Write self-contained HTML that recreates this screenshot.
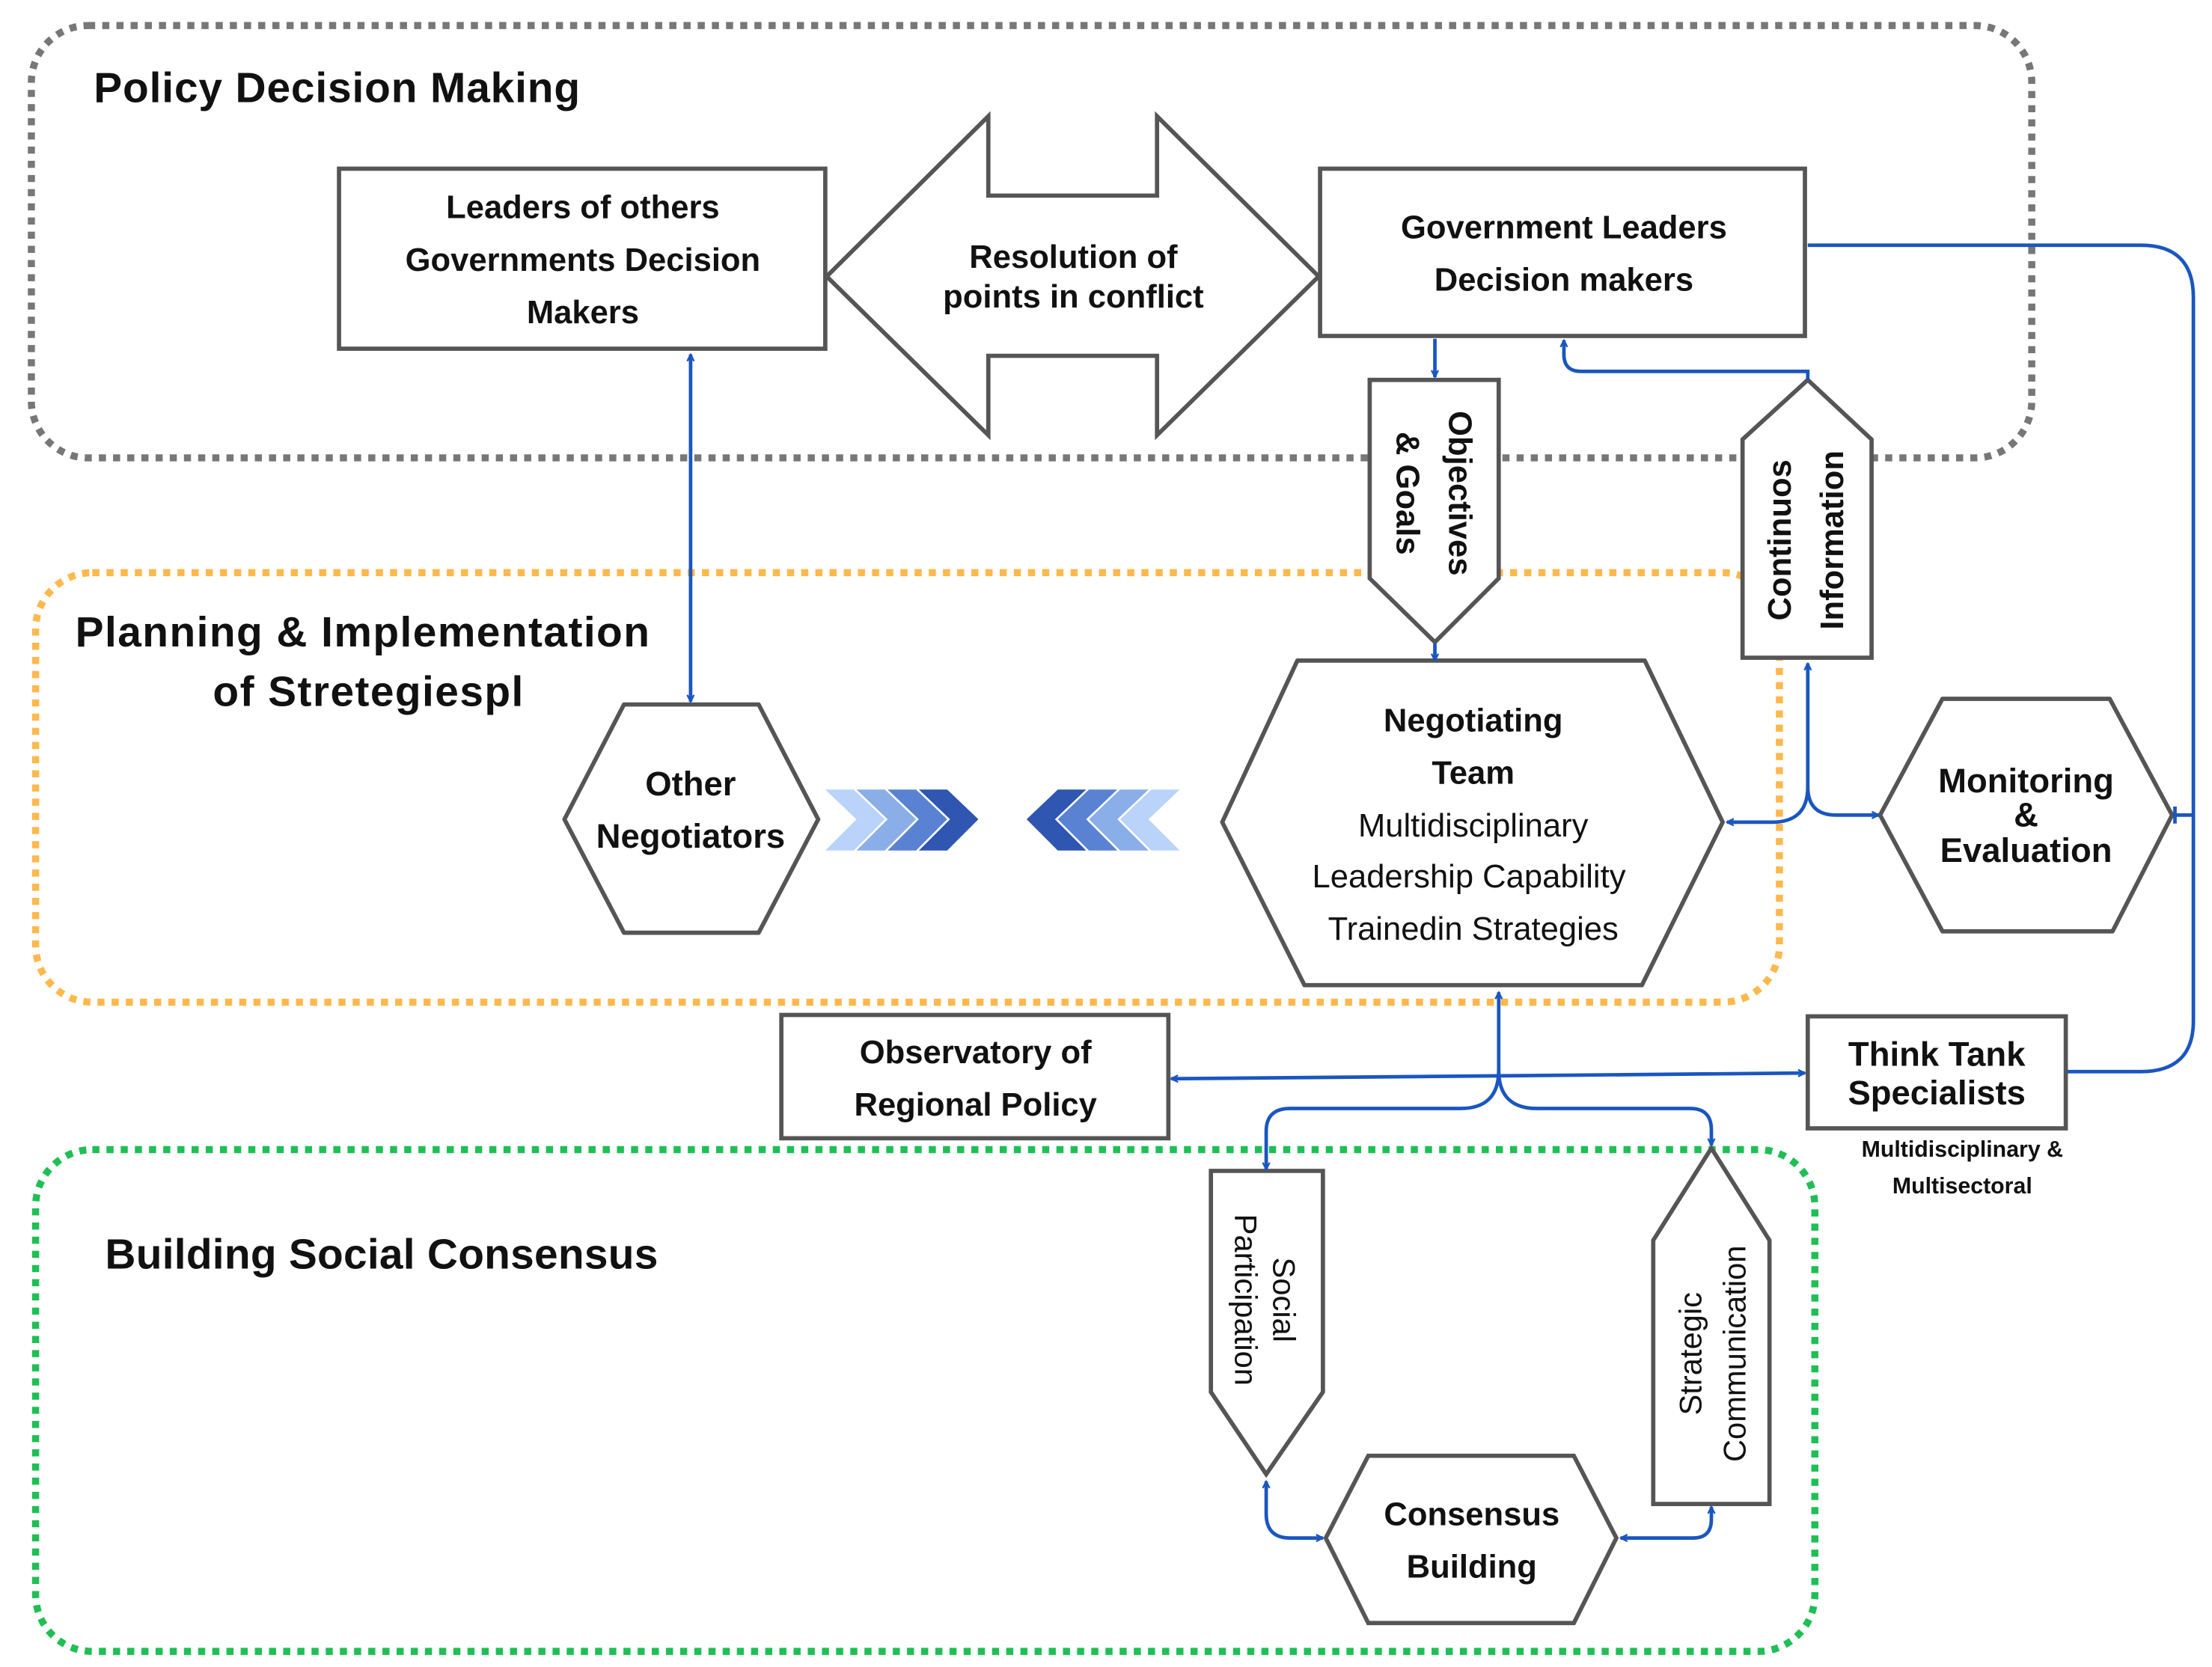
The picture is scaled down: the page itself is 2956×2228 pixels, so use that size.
<!DOCTYPE html>
<html><head><meta charset="utf-8"><style>
html,body{margin:0;padding:0;background:#fff;}
svg{display:block;}
text{font-family:"Liberation Sans",sans-serif;fill:#111;}
.b{font-weight:bold;}
.r{font-weight:normal;}
</style></head><body>
<svg width="2956" height="2228" viewBox="0 0 1560 1176" xmlns="http://www.w3.org/2000/svg">
<defs>
<marker id="a" viewBox="0 0 10 10" refX="9" refY="5" markerWidth="6" markerHeight="6" orient="auto-start-reverse" markerUnits="userSpaceOnUse"><path d="M1,1 L9,5 L1,9" fill="none" stroke="#1a56c0" stroke-width="2"/></marker>
</defs>
<rect x="22" y="18" width="1411" height="305" rx="40" fill="none" stroke="#777" stroke-width="5" stroke-dasharray="5 5"/>
<rect x="25" y="404" width="1230" height="303" rx="40" fill="none" stroke="#ffb84d" stroke-width="5" stroke-dasharray="5 5"/>
<rect x="25" y="811" width="1255" height="354" rx="40" fill="none" stroke="#1fbf55" stroke-width="5" stroke-dasharray="5 5"/>

<text x="66" y="72" class="b" font-size="30" textLength="343">Policy Decision Making</text>
<text x="53" y="456" class="b" font-size="30" textLength="405">Planning &amp; Implementation</text>
<text x="150" y="498" class="b" font-size="30" textLength="219">of Stretegiespl</text>
<text x="74" y="895" class="b" font-size="30" textLength="390">Building Social Consensus</text>

<g fill="#fff" stroke="#555" stroke-width="3">
<rect x="239" y="119" width="343" height="127"/>
<path d="M583,195 L697,82 L697,138 L816,138 L816,82 L930,195 L816,307 L816,251 L697,251 L697,307 Z"/>
<rect x="931" y="119" width="342" height="118"/>
<path d="M966,268 L1057,268 L1057,408 L1012,453 L966,408 Z"/>
<path d="M1275,268 L1320,310 L1320,464 L1229,464 L1229,310 Z"/>
<path d="M440,497 L535,497 L577,578 L535,658 L440,658 L398,578 Z" stroke-linejoin="round"/>
<path d="M915,466 L1160,466 L1215,580 L1158,695 L920,695 L862,580 Z" stroke-linejoin="round"/>
<path d="M1370,493 L1488,493 L1532,575 L1490,657 L1370,657 L1326,575 Z" stroke-linejoin="round"/>
<rect x="551" y="716" width="273" height="87"/>
<rect x="1275" y="717" width="182" height="79"/>
<path d="M854,826 L933,826 L933,982 L893,1040 L854,982 Z"/>
<path d="M1207,810 L1248,875 L1248,1061 L1166,1061 L1166,875 Z"/>
<path d="M965,1027 L1110,1027 L1140,1085 L1110,1145 L965,1145 L935,1085 Z"/>
</g>

<g>
<path d="M582,557 L602,557 L624,578 L602,600 L582,600 L604,578 Z" fill="#b9d3fb"/>
<path d="M604,557 L624,557 L646,578 L624,600 L604,600 L626,578 Z" fill="#8aaee8"/>
<path d="M626,557 L646,557 L668,578 L646,600 L626,600 L648,578 Z" fill="#5a82d3"/>
<path d="M648,557 L668,557 L690,578 L668,600 L648,600 L670,578 Z" fill="#2f56b0"/>
<path d="M832,557 L812,557 L790,578 L812,600 L832,600 L810,578 Z" fill="#b9d3fb"/>
<path d="M810,557 L790,557 L768,578 L790,600 L810,600 L788,578 Z" fill="#8aaee8"/>
<path d="M788,557 L768,557 L746,578 L768,600 L788,600 L766,578 Z" fill="#5a82d3"/>
<path d="M766,557 L746,557 L724,578 L746,600 L766,600 L744,578 Z" fill="#2f56b0"/>
</g>

<g fill="none" stroke="#1a56c0" stroke-width="2.5">
<path d="M487,250 L487,495" marker-start="url(#a)" marker-end="url(#a)"/>
<path d="M1012,239 L1012,266" marker-end="url(#a)"/>
<path d="M1012,454 L1012,466" marker-end="url(#a)"/>
<path d="M1275,268 L1275,262 L1115,262 Q1103,262 1103,250 L1103,240" marker-end="url(#a)"/>
<path d="M1275,173 L1510,173 Q1547,173 1547,210 L1547,720 Q1547,756 1510,756 L1458,756"/>
<path d="M1547,575 L1534,575"/>
<path d="M1534,569 L1534,581"/>
<path d="M1275,468 L1275,555 Q1275,580 1250,580 L1218,580" marker-start="url(#a)" marker-end="url(#a)"/>
<path d="M1275,555 Q1275,575 1295,575 L1325,575" marker-end="url(#a)"/>
<path d="M826,761 L1273,757" marker-start="url(#a)" marker-end="url(#a)"/>
<path d="M1057,700 L1057,755 Q1057,782 1030,782 L910,782 Q893,782 893,798 L893,825" marker-start="url(#a)" marker-end="url(#a)"/>
<path d="M1057,755 Q1057,782 1084,782 L1192,782 Q1207,782 1207,797 L1207,808" marker-end="url(#a)"/>
<path d="M893,1045 L893,1068 Q893,1085 910,1085 L933,1085" marker-start="url(#a)" marker-end="url(#a)"/>
<path d="M1207,1063 L1207,1072 Q1207,1085 1194,1085 L1143,1085" marker-start="url(#a)" marker-end="url(#a)"/>
</g>

<g font-size="23" text-anchor="middle">
<text x="411" y="154" class="b">Leaders of others</text>
<text x="411" y="191" class="b">Governments Decision</text>
<text x="411" y="228" class="b">Makers</text>
<text x="757" y="189" class="b">Resolution of</text>
<text x="757" y="217" class="b">points in conflict</text>
<text x="1103" y="168" class="b">Government Leaders</text>
<text x="1103" y="205" class="b">Decision makers</text>
<text x="487" y="561" class="b" font-size="24">Other</text>
<text x="487" y="598" class="b" font-size="24">Negotiators</text>
<text x="1039" y="516" class="b">Negotiating</text>
<text x="1039" y="553" class="b">Team</text>
<text x="1039" y="590" class="r">Multidisciplinary</text>
<text x="1036" y="626" class="r">Leadership Capability</text>
<text x="1039" y="663" class="r">Trainedin Strategies</text>
<text x="1429" y="559" class="b" font-size="24">Monitoring</text>
<text x="1429" y="583" class="b" font-size="24">&amp;</text>
<text x="1429" y="608" class="b" font-size="24">Evaluation</text>
<text x="688" y="750" class="b">Observatory of</text>
<text x="688" y="787" class="b">Regional Policy</text>
<text x="1366" y="752" class="b" font-size="24">Think Tank</text>
<text x="1366" y="779" class="b" font-size="24">Specialists</text>
<text x="1384" y="816" class="b" font-size="16">Multidisciplinary &amp;</text>
<text x="1384" y="842" class="b" font-size="16">Multisectoral</text>
<text x="1038" y="1076" class="b">Consensus</text>
<text x="1038" y="1113" class="b">Building</text>
<text transform="translate(1022,348) rotate(90)" class="b">Objectives</text>
<text transform="translate(985,348) rotate(90)" class="b">&amp; Goals</text>
<text transform="translate(1263,381) rotate(-90)" class="b">Continuos</text>
<text transform="translate(1300,381) rotate(-90)" class="b">Information</text>
<text transform="translate(898,917) rotate(90)" font-size="22">Social</text>
<text transform="translate(871,917) rotate(90)" font-size="22">Participation</text>
<text transform="translate(1200,955) rotate(-90)" font-size="22">Strategic</text>
<text transform="translate(1231,955) rotate(-90)" font-size="22">Communication</text>
</g>
</svg>
</body></html>
